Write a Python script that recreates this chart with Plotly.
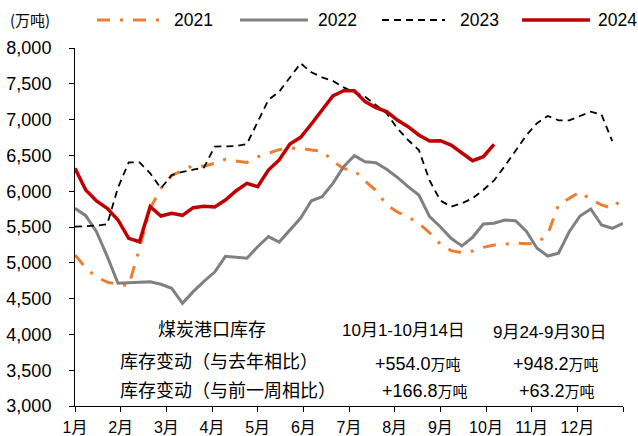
import plotly.graph_objects as go

# ---------------- data ----------------
month_labels = ['1月', '2月', '3月', '4月', '5月', '6月', '7月', '8月', '9月', '10月', '11月', '12月']
n_slots = 52  # weekly observation slots spread across the year

v2021 = [5109, 4930, 4800, 4730, 4700, 4680, 5200, 5760, 6040, 6220, 6290, 6360, 6350, 6390,
         6445, 6420, 6400, 6480, 6530, 6580, 6600, 6600, 6575, 6560, 6420, 6315, 6290, 6140,
         6010, 5810, 5710, 5640, 5550, 5420, 5260, 5170, 5140, 5165, 5215, 5249, 5260, 5278,
         5265, 5275, 5400, 5810, 5900, 5993, 5880, 5810, 5760, 5910]
v2022 = [5761, 5658, 5435, 5090, 4714, 4720, 4730, 4736, 4700, 4644, 4434, 4597, 4740, 4870,
         5090, 5075, 5063, 5225, 5365, 5290, 5458, 5626, 5866, 5923, 6110, 6343, 6496, 6412,
         6398, 6306, 6194, 6063, 5947, 5644, 5504, 5342, 5235, 5356, 5542, 5552, 5598, 5588,
         5440, 5203, 5095, 5133, 5434, 5654, 5752, 5528, 5482, 5552]
v2023 = [5505, 5510, 5520, 5538, 6050, 6403, 6403, 6250, 6040, 6226, 6270, 6300, 6330, 6622,
         6625, 6631, 6660, 6960, 7274, 7390, 7580, 7786, 7660, 7590, 7540, 7450, 7380, 7320,
         7204, 7088, 6878, 6715, 6575, 6150, 5870, 5784, 5831, 5901, 6017, 6150, 6350, 6560,
         6780, 6950, 7050, 6990, 6990, 7050, 7110, 7070, 6700]
v2024 = [6320, 6017, 5863, 5761, 5598, 5342, 5295, 5784, 5654, 5691, 5663, 5770, 5790, 5780,
         5877, 6007, 6110, 6063, 6296, 6436, 6659, 6752, 6939, 7143, 7330, 7404, 7404, 7251,
         7167, 7111, 6994, 6901, 6785, 6701, 6705, 6645, 6529, 6426, 6482, 6655]

series_names = ['2021', '2022', '2023', '2024']
series_values = [v2021, v2022, v2023, v2024]

note_title = '煤炭港口库存'
note_rows = ['库存变动（与去年相比）', '库存变动（与前一周相比）']
note_periods = ['10月1-10月14日', '9月24-9月30日']
note_yoy = ['+554.0', '+948.2']
note_wow = ['+166.8', '+63.2']
unit = '万吨'

# ---------------- styles ----------------
styles = {
    '2021': dict(color='#ED7D31', width=3, dash='13px,10px,3px,10px'),
    '2022': dict(color='#808080', width=3, dash='solid'),
    '2023': dict(color='#000000', width=1.8, dash='7px,5px'),
    '2024': dict(color='#C00000', width=3.5, dash='solid'),
}

W, H = 638, 436
L, R, T, B = 75, 15, 48, 30
PW, PH = W - L - R, H - T - B


def px(xp):
    return (xp - L) / PW


def py(yp):
    return (H - B - yp) / PH


NUM = 'Liberation Sans, Arial, Noto Sans CJK SC'
CJK = 'Noto Sans CJK SC, Liberation Sans'

fig = go.Figure()
for name, vals in zip(series_names, series_values):
    xs = [k * 12 / (n_slots - 1) for k in range(len(vals))]
    fig.add_trace(go.Scatter(x=xs, y=vals, mode='lines', name=name,
                             line=styles[name], showlegend=False))

# manual legend
legend_lines = {'2021': (97, 160, 172), '2022': (240, 308, 316),
                '2023': (382, 445, 458), '2024': (522, 590, 596)}
shapes = []
annotations = []
for name in series_names:
    x0, x1, xt = legend_lines[name]
    shapes.append(dict(type='line', xref='paper', yref='paper', x0=px(x0), x1=px(x1),
                       y0=py(20), y1=py(20), line=styles[name]))
    annotations.append(dict(xref='paper', yref='paper', x=px(xt), y=py(20), text=name,
                            xanchor='left', yanchor='middle', showarrow=False,
                            font=dict(family=NUM, size=17.5, color='#000')))
annotations.append(dict(xref='paper', yref='paper', x=px(8), y=py(20), text='(万吨)',
                        xanchor='left', yanchor='middle', showarrow=False,
                        font=dict(family=CJK, size=15, color='#000')))

# notes table
def add_note(text, xp, yp, anchor='center', family=CJK, size=18):
    annotations.append(dict(xref='paper', yref='paper', x=px(xp), y=py(yp), text=text,
                            xanchor=anchor, yanchor='middle', showarrow=False,
                            font=dict(family=family, size=size, color='#000')))

u = f"<span style='font-family:Noto Sans CJK SC;font-size:15px'>{unit}</span>"
add_note(note_title, 212, 328)
add_note(note_rows[0], 118, 360, anchor='left')
add_note(note_rows[1], 118, 389, anchor='left')
add_note(note_periods[0], 403, 330, family=NUM, size=17)
add_note(note_periods[1], 549, 332, family=NUM, size=17)
add_note(note_yoy[0] + u, 418, 363, family=NUM, size=18)
add_note(note_yoy[1] + u, 556, 363, family=NUM, size=18)
add_note(note_wow[0] + u, 425, 390, family=NUM, size=18)
add_note(note_wow[1] + u, 557, 390, family=NUM, size=18)

fig.update_layout(
    width=W, height=H,
    margin=dict(l=L, r=R, t=T, b=B, pad=0, autoexpand=False),
    paper_bgcolor='white', plot_bgcolor='white',
    shapes=shapes, annotations=annotations,
    showlegend=False,
    xaxis=dict(range=[0, 12], tickmode='array', tickvals=list(range(13)),
               ticktext=month_labels + [''], showgrid=False, zeroline=False,
               showline=True, linecolor='#000', linewidth=1,
               ticks='outside', ticklen=5, tickcolor='#000', tickwidth=1,
               tickfont=dict(family=NUM, size=16, color='#000'),
               ticklabelstandoff=2, automargin=False),
    yaxis=dict(range=[3000, 8000], tickmode='array',
               tickvals=list(range(3000, 8001, 500)), tickformat=',',
               showgrid=False, zeroline=False,
               showline=True, linecolor='#000', linewidth=1,
               ticks='outside', ticklen=5, tickcolor='#000', tickwidth=1,
               tickfont=dict(family=NUM, size=18, color='#000'),
               ticklabelstandoff=14, automargin=False),
)

fig.write_html('out.html', config={'displayModeBar': False, 'staticPlot': True},
               post_script="document.body.style.margin='0';document.body.style.overflow='hidden';")
